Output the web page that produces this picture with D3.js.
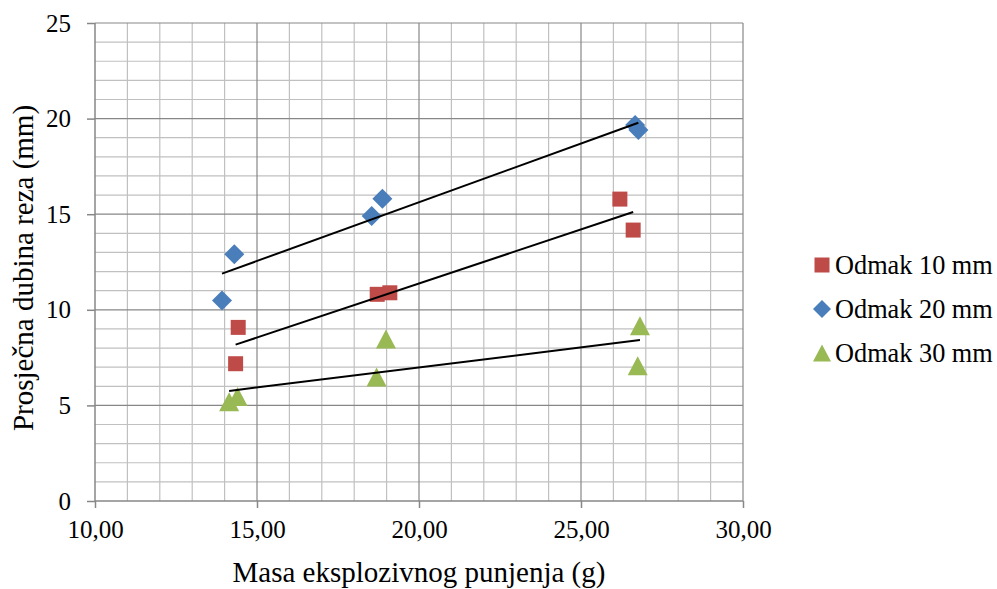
<!DOCTYPE html>
<html>
<head>
<meta charset="utf-8">
<script src="https://cdn.jsdelivr.net/npm/d3@7"></script>
<style>
  html, body { margin: 0; padding: 0; background: #fff; }
</style>
</head>
<body>
<svg id="chart" width="997" height="589"></svg>
<script>
// ---- Data ----
const seriesNames = ["Odmak 10 mm", "Odmak 20 mm", "Odmak 30 mm"];
const seriesColors = ["#be4b48", "#4a7ebb", "#98b954"];
const seriesShapes = ["square", "diamond", "triangle"];

const odmak10X = [14.34, 14.42, 18.71, 19.10, 26.20, 26.61];
const odmak10Y = [7.18, 9.08, 10.81, 10.89, 15.79, 14.17];

const odmak20X = [13.92, 14.30, 18.54, 18.87, 26.67, 26.77];
const odmak20Y = [10.48, 12.90, 14.91, 15.81, 19.67, 19.40];

const odmak30X = [14.14, 14.40, 18.69, 18.98, 26.75, 26.82];
const odmak30Y = [5.19, 5.47, 6.49, 8.47, 7.08, 9.17];

const xTicks = [10, 15, 20, 25, 30];
const yTicks = [0, 5, 10, 15, 20, 25];
const xTitle = "Masa eksplozivnog punjenja (g)";
const yTitle = "Prosječna dubina reza (mm)";

const seriesX = [odmak10X, odmak20X, odmak30X];
const seriesY = [odmak10Y, odmak20Y, odmak30Y];

(function () {
const FONT = '"Liberation Serif", "Times New Roman", Tinos, "DejaVu Serif", serif';
// ---- Layout ----
const svg = d3.select("#chart");
const pL = 95, pR = 743, pT = 23, pB = 501;
const x = d3.scaleLinear().domain([10, 30]).range([pL, pR]);
const y = d3.scaleLinear().domain([0, 25]).range([pB, pT]);

const minorColor = "#c0c0c0";
const majorColor = "#878787";

const g = svg.append("g");
g.selectAll(".vminor").data(d3.range(11, 30).filter(v => v % 5 !== 0)).enter()
  .append("line")
  .attr("x1", d => x(d)).attr("x2", d => x(d))
  .attr("y1", pT).attr("y2", pB)
  .attr("stroke", minorColor).attr("stroke-width", 1.2);
g.selectAll(".hminor").data(d3.range(1, 25).filter(v => v % 5 !== 0)).enter()
  .append("line")
  .attr("y1", d => y(d)).attr("y2", d => y(d))
  .attr("x1", pL).attr("x2", pR)
  .attr("stroke", minorColor).attr("stroke-width", 1.2);
g.selectAll(".vmajor").data(xTicks.slice(1)).enter()
  .append("line")
  .attr("x1", d => x(d)).attr("x2", d => x(d))
  .attr("y1", pT).attr("y2", pB)
  .attr("stroke", majorColor).attr("stroke-width", 1.2);
g.selectAll(".hmajor").data(yTicks.slice(1)).enter()
  .append("line")
  .attr("y1", d => y(d)).attr("y2", d => y(d))
  .attr("x1", pL).attr("x2", pR)
  .attr("stroke", majorColor).attr("stroke-width", 1.2);

const fmt = d => d.toFixed(2).replace(".", ",");
const xAxis = d3.axisBottom(x).tickValues(xTicks).tickFormat(fmt).tickSize(7).tickPadding(12);
const yAxis = d3.axisLeft(y).tickValues(yTicks).tickFormat(d3.format("d")).tickSize(8).tickPadding(16);

const gx = svg.append("g").attr("transform", `translate(0,${pB})`).call(xAxis);
const gy = svg.append("g").attr("transform", `translate(${pL},0)`).call(yAxis);
[gx, gy].forEach(a => {
  a.attr("font-family", FONT).attr("font-size", 25);
  a.select(".domain").attr("stroke", majorColor).attr("stroke-width", 1.5);
  a.selectAll(".tick line").attr("stroke", majorColor).attr("stroke-width", 1.5);
  a.selectAll(".tick text").attr("fill", "#000");
});
gx.select(".domain").attr("d", `M${pL},0H${pR}`);
gy.select(".domain").attr("d", `M0,${pT}V${pB}`);

svg.append("text")
  .attr("x", (pL + pR) / 2).attr("y", 582)
  .attr("text-anchor", "middle")
  .attr("font-family", FONT).attr("font-size", 29)
  .text(xTitle);
svg.append("text")
  .attr("transform", `translate(33,${(pT + pB) / 2 + 6}) rotate(-90)`)
  .attr("text-anchor", "middle")
  .attr("font-family", FONT).attr("font-size", 29)
  .text(yTitle);

function markerPath(shape) {
  if (shape === "square") {
    const s = 7.5;
    return `M${-s},${-s}H${s}V${s}H${-s}Z`;
  }
  if (shape === "diamond") {
    const s = 10;
    return `M0,${-s}L${s},0L0,${s}L${-s},0Z`;
  }
  const w = 10, h = 9.5;
  return `M0,${-h}L${w},${h}L${-w},${h}Z`;
}

seriesNames.forEach((name, i) => {
  const pts = seriesX[i].map((xv, j) => ({ x: xv, y: seriesY[i][j] }));
  svg.append("g").selectAll("path").data(pts).enter()
    .append("path")
    .attr("d", markerPath(seriesShapes[i]))
    .attr("transform", d => `translate(${x(d.x)},${y(d.y)})`)
    .attr("fill", seriesColors[i]);
});

seriesNames.forEach((name, i) => {
  const xs = seriesX[i], ys = seriesY[i];
  const mx = d3.mean(xs), my = d3.mean(ys);
  const num = d3.sum(xs, (xv, j) => (xv - mx) * (ys[j] - my));
  const den = d3.sum(xs, xv => (xv - mx) * (xv - mx));
  const b = num / den, a = my - b * mx;
  const x0 = d3.min(xs), x1 = d3.max(xs);
  svg.append("line")
    .attr("x1", x(x0)).attr("y1", y(a + b * x0))
    .attr("x2", x(x1)).attr("y2", y(a + b * x1))
    .attr("stroke", "#000").attr("stroke-width", 2);
});

const legendRows = [265, 309, 353];
seriesNames.forEach((name, i) => {
  const lg = svg.append("g").attr("transform", `translate(822,${legendRows[i]})`);
  const scale = seriesShapes[i] === "square" ? 1 : 0.9;
  lg.append("path")
    .attr("d", markerPath(seriesShapes[i]))
    .attr("transform", `scale(${scale})`)
    .attr("fill", seriesColors[i]);
  lg.append("text")
    .attr("x", 13).attr("y", 0).attr("dy", "0.33em")
    .attr("font-family", FONT).attr("font-size", 26.3)
    .text(name);
});
})();
</script>
</body>
</html>
